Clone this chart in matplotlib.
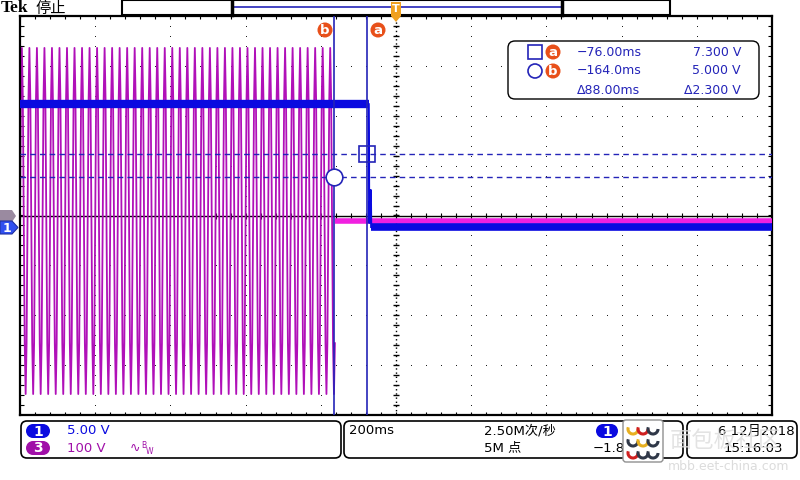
import numpy as np
import matplotlib
matplotlib.use("Agg")
import matplotlib.pyplot as plt
from matplotlib.patches import FancyBboxPatch, Rectangle, Circle, Polygon, Arc

plt.rcParams['font.family'] = ['DejaVu Sans', 'Noto Sans CJK SC']

# ---- scope settings / readings ----
time_per_div = 200.0          # ms/div
ch1_volts_per_div = 5.0
ch3_volts_per_div = 100.0
ch1_offset_div = -0.23        # ground marker position
ch3_offset_div = -0.11

# CH3 mains waveform: one cycle (V), repeated for each 20 ms period
ch3_cycle_v = [0, 245, 347, 245, 0, -245, -347, -245]
ch3_cycles = 42
ch3_start_ms = -1000.0
ch3_after_t = [-163.0, 1000.0]
ch3_after_v = [0.0, 0.0]

# CH1 trace (V)
ch1_t = [-1000.0, -72.5, -72.0, -71.4, -68.0, -67.0, -66.0, 1000.0]
ch1_v = [12.3, 12.3, 9.5, 0.4, 3.7, 3.7, 0.0, 0.0]

# cursors
cursor_a_ms, cursor_b_ms = -76.0, -164.0
cursor_a_v, cursor_b_v = 7.3, 5.0

navy = "#2424b8"
orange = "#e8501a"
blue = "#0a0ae0"
purple = "#b010b8"

fig = plt.figure(figsize=(8, 4.8), dpi=100)
W, H = 800, 480
gl, gr, gt, gb = 20, 772, 16, 415
ax = fig.add_axes([gl / W, 1 - gb / H, (gr - gl) / W, (gb - gt) / H])
ax.set_xlim(-5 * time_per_div, 5 * time_per_div)
ax.set_ylim(-4, 4)
ax.set_xticks([])
ax.set_yticks([])
for s in ax.spines.values():
    s.set_linewidth(1.6)

# graticule
div_x = np.arange(-4, 5) * time_per_div
minor_x = np.arange(-1000, 1001, 40)
minor_y = np.arange(-4, 4.01, 0.2)
dot = dict(ls="none", marker="s", ms=0.7, mew=0, color="#202020", zorder=1)
for xv in div_x:
    if xv == 0:
        continue
    ax.plot(np.full_like(minor_y, xv), minor_y, **dot)
for yv in range(-3, 4):
    if yv == 0:
        continue
    ax.plot(minor_x, np.full_like(minor_x, yv, dtype=float), **dot)
ax.axhline(0, color="black", lw=1.0, zorder=1)
ax.axvline(0, color="black", lw=1.0, ls=(0, (1, 2)), zorder=1)
ax.plot(np.zeros_like(minor_y), minor_y, ls="none", marker="_", ms=5, mew=1, color="black", zorder=1)
ax.plot(minor_x, np.zeros_like(minor_x), ls="none", marker="|", ms=4, mew=0.8, color="black", zorder=1)
ax.plot(minor_x, np.full_like(minor_x, 3.97, dtype=float), ls="none", marker="|", ms=3, mew=0.8, color="black", zorder=1)
ax.plot(minor_x, np.full_like(minor_x, -3.97, dtype=float), ls="none", marker="|", ms=3, mew=0.8, color="black", zorder=1)
ax.plot(np.full_like(minor_y, -994), minor_y, ls="none", marker="_", ms=3, mew=0.8, color="black", zorder=1)
ax.plot(np.full_like(minor_y, 994), minor_y, ls="none", marker="_", ms=3, mew=0.8, color="black", zorder=1)

# CH3 trace
ch3_v = np.tile(ch3_cycle_v, ch3_cycles)
ch3_t = ch3_start_ms + np.arange(len(ch3_v)) * (20.0 / len(ch3_cycle_v))
ax.plot(ch3_t, ch3_v / ch3_volts_per_div + ch3_offset_div, color=purple, lw=1.3, zorder=2)
ax.plot(ch3_after_t, np.array(ch3_after_v) / ch3_volts_per_div + ch3_offset_div,
        color="#f020e0", lw=4, solid_capstyle="butt", zorder=3)

# CH1 trace
ch1_div = np.array(ch1_v) / ch1_volts_per_div + ch1_offset_div
ax.plot(ch1_t[:2], ch1_div[:2], color=blue, lw=6, solid_capstyle="butt", zorder=4)
ax.plot(ch1_t[1:7], ch1_div[1:7], color=blue, lw=1.5, zorder=4)
ax.plot(ch1_t[6:], ch1_div[6:], color=blue, lw=5.5, solid_capstyle="butt", zorder=4)

# cursors
for cx in (cursor_a_ms, cursor_b_ms):
    ax.axvline(cx, color=navy, lw=1.2, zorder=5)
for cv in (cursor_a_v, cursor_b_v):
    ax.axhline(cv / ch1_volts_per_div + ch1_offset_div, color=navy, lw=1.0, ls=(0, (4, 3)), zorder=5)
ax.plot([cursor_a_ms], [cursor_a_v / ch1_volts_per_div + ch1_offset_div], marker="s", ms=11,
        mfc="none", mec=navy, mew=1.2, zorder=6)
ax.plot([cursor_b_ms], [cursor_b_v / ch1_volts_per_div + ch1_offset_div], marker="o", ms=12,
        mfc="white", mec=navy, mew=1.2, zorder=6)

# ---- overlay in pixel coordinates for the scope furniture ----
ov = fig.add_axes([0, 0, 1, 1], facecolor="none")
ov.set_xlim(0, W)
ov.set_ylim(H, 0)
ov.axis("off")


def rbox(x0, y0, x1, y1, r=6, lw=1.2, fc="white", ec="black", z=3):
    ov.add_patch(FancyBboxPatch((x0 + r, y0 + r), x1 - x0 - 2 * r, y1 - y0 - 2 * r,
                                boxstyle=f"round,pad={r}", fc=fc, ec=ec, lw=lw, zorder=z))


def pill(cx, cy, label, color, w=24, h=14):
    ov.add_patch(Rectangle((cx - w / 2 + h / 2, cy - h / 2), w - h, h, fc=color, ec="none", zorder=5))
    ov.add_patch(Circle((cx - w / 2 + h / 2, cy), h / 2, fc=color, ec="none", zorder=5))
    ov.add_patch(Circle((cx + w / 2 - h / 2, cy), h / 2, fc=color, ec="none", zorder=5))
    ov.text(cx, cy + 0.5, label, color="white", fontsize=10, fontweight="bold",
            ha="center", va="center", zorder=6)


def badge(cx, cy, label):
    ov.add_patch(Circle((cx, cy), 7.5, fc=orange, ec="none", zorder=6))
    ov.text(cx, cy + 0.5, label, color="white", fontsize=9.5, fontweight="bold",
            ha="center", va="center", zorder=7)


# top bar
ov.text(1, 8, "Tek", fontsize=12.5, fontweight="bold", family="Liberation Serif", va="center")
ov.text(36, 8, "停止", fontsize=11, family=["Noto Sans CJK SC"], va="center")
ov.add_patch(Rectangle((122, 0), 548, 15, fc="white", ec="black", lw=1.5, zorder=2))
ov.plot([232, 562], [7, 7], color=navy, lw=1.2, zorder=3)
ov.plot([232, 232], [0, 15], color="black", lw=2.5, zorder=3)
ov.plot([562, 562], [0, 15], color="black", lw=2.5, zorder=3)
ov.add_patch(Polygon([[391, 2], [401, 2], [401, 16], [396, 22], [391, 16]], fc="#f0a020", ec="none", zorder=6))
ov.text(396, 9, "T", color="white", fontsize=8, fontweight="bold", ha="center", va="center", zorder=7)
badge(325, 30, "b")
badge(378, 30, "a")

# ground marker
ov.add_patch(Polygon([[0, 210], [12, 210], [16, 216], [12, 222], [0, 222]], fc="#9a8aa0", ec="none", zorder=5))
ov.add_patch(Polygon([[0, 221], [12, 221], [18, 227.5], [12, 234], [0, 234]], fc="#3050f0", ec="#2030a0", lw=0.8, zorder=6))
ov.text(7, 228, "1", color="white", fontsize=9, fontweight="bold", ha="center", va="center", zorder=7)

# cursor readout
rbox(508, 41, 759, 99, r=7, lw=1.0)
ov.add_patch(Rectangle((528, 45), 14, 14, fc="none", ec=navy, lw=1.2, zorder=5))
ov.add_patch(Circle((535, 71), 7, fc="none", ec=navy, lw=1.2, zorder=5))
badge(553, 52, "a")
badge(553, 71, "b")
rows_t = ["\u221276.00ms", "\u2212164.0ms", "\u039488.00ms"]
rows_v = ["7.300 V", "5.000 V", "\u03942.300 V"]
for i, (tt, vv) in enumerate(zip(rows_t, rows_v)):
    y = 52 + i * 19
    ov.text(577, y, tt, color=navy, fontsize=9, va="center", zorder=6)
    ov.text(741, y, vv, color=navy, fontsize=9, va="center", ha="right", zorder=6)

# bottom status boxes
rbox(21, 421, 341, 458, r=6)
rbox(344, 421, 683, 458, r=6)
rbox(687, 421, 797, 458, r=6)
pill(38, 431, "1", blue)
pill(38, 448, "3", "#a010a8")
ov.text(67, 431, "5.00 V", color=blue, fontsize=9.5, va="center")
ov.text(67, 448, "100 V", color="#a010a8", fontsize=9.5, va="center")
ov.text(130, 448, "\u223f", color="#a010a8", fontsize=9, va="center")
ov.text(141, 445, "B", color="#a010a8", fontsize=5.5, va="center")
ov.text(146, 451, "W", color="#a010a8", fontsize=5.5, va="center")
ov.text(349, 431, "200ms", fontsize=9.5, va="center")
ov.text(484, 431, "2.50M次/秒", fontsize=9.5, va="center", family=["DejaVu Sans", "Noto Sans CJK SC"])
ov.text(484, 448, "5M 点", fontsize=9.5, va="center", family=["DejaVu Sans", "Noto Sans CJK SC"])
pill(607, 431, "1", blue, w=22)
ov.text(593, 448, "\u22121.8", fontsize=9.5, va="center")
ov.text(795, 431, "6 12月2018", fontsize=9.5, va="center", ha="right", family=["DejaVu Sans", "Noto Sans CJK SC"])
ov.text(783, 448, "15:16:03", fontsize=9.5, va="center", ha="right")

# watermark
ov.add_patch(FancyBboxPatch((626, 423), 34, 36, boxstyle="round,pad=3", fc="white", ec="#909090", lw=1, zorder=8))
arc_cols = [["#e8b020", "#d02020", "#303848"], ["#303848", "#e8b020", "#303848"], ["#d02020", "#303848", "#303848"]]
for r_i in range(3):
    for c_i in range(3):
        ov.add_patch(Arc((633 + c_i * 10, 429 + r_i * 12), 10, 10, theta1=0, theta2=200,
                         color=arc_cols[r_i][c_i], lw=2.2, zorder=9))
ov.text(670, 440, "面包板社区", fontsize=16, color="#dcdcdc", alpha=0.8, va="center",
        family=["Noto Sans CJK SC"], zorder=9)
ov.text(668, 466, "mbb.eet-china.com", fontsize=9, color="#d8d8d8", alpha=0.9, va="center", zorder=9)

fig.savefig("out.png", dpi=100)
